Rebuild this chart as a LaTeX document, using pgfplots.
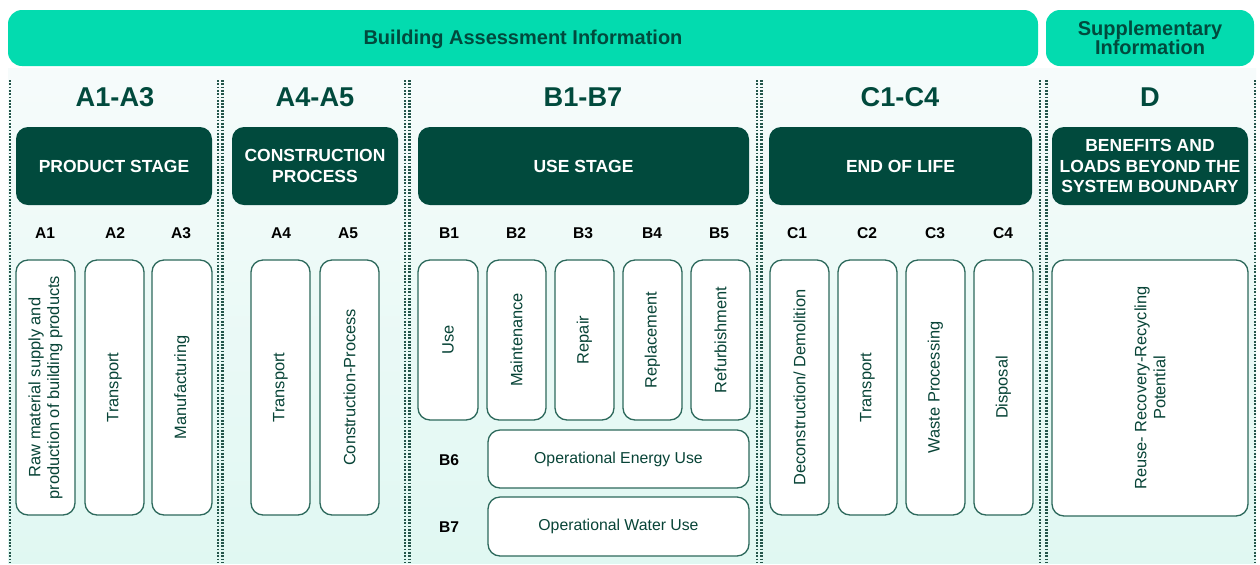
\documentclass[border=0pt]{standalone}
\usepackage{pgfplots}
\pgfplotsset{compat=1.18}
\usepackage{fontspec}
\setmainfont{Liberation Sans}
\usetikzlibrary{calc}
\definecolor{mint}{RGB}{3,219,175}
\definecolor{darkg}{RGB}{1,74,61}
\definecolor{txtg}{RGB}{8,68,55}
\definecolor{bord}{RGB}{45,105,92}
\definecolor{bgtop}{RGB}{246,251,251}
\definecolor{bgbot}{RGB}{224,248,242}
\definecolor{dotc}{RGB}{35,85,74}
\newcommand{\fs}[1]{\fontsize{#1}{1.15\dimexpr#1pt\relax}\selectfont}
\newcommand{\wbox}[5]{%
  \draw[draw=bord, line width=0.65pt, fill=white, rounded corners=6pt] (axis cs:#1,#2) rectangle (axis cs:#3,#4);
  \node[rotate=90, text=txtg, align=center, font=\fs{8.2}, inner sep=0pt] at ($(axis cs:#1,#2)!0.5!(axis cs:#3,#4)$) {#5};}
\newcommand{\horbox}[5]{%
  \draw[draw=bord, line width=0.65pt, fill=white, rounded corners=6pt] (axis cs:#1,#2) rectangle (axis cs:#3,#4);
  \node[text=txtg, align=center, font=\fs{7.9}, inner sep=0pt] at ($(axis cs:#1,#2)!0.5!(axis cs:#3,#4)$) {#5};}
\newcommand{\dbox}[5]{%
  \fill[darkg, rounded corners=6pt] (axis cs:#1,#2) rectangle (axis cs:#3,#4);
  \node[text=white, align=center, font=\bfseries\fs{8.75}, inner sep=0pt] at ($(axis cs:#1,#2)!0.5!(axis cs:#3,#4)$) {#5};}
\newcommand{\code}[3]{\node[text=black, font=\bfseries\fs{7.8}] at (axis cs:#1,#2) {#3};}
\newcommand{\head}[2]{\node[text=darkg, font=\bfseries\fs{13.6}] at (axis cs:#1,97) {#2};}
\newcommand{\dline}[1]{\draw[dotc, line width=1.1pt, dash pattern=on 0.9pt off 0.75pt] (axis cs:#1,80) -- (axis cs:#1,563);}
\begin{document}
\begin{tikzpicture}
\begin{axis}[
  width=630pt, height=281.5pt, scale only axis,
  xmin=0, xmax=1260, ymin=0, ymax=563, y dir=reverse,
  hide axis, clip=false,
]
\fill[white] (axis cs:0,0) rectangle (axis cs:1260,563);
\shade[top color=bgtop, bottom color=bgbot] (axis cs:8,68) rectangle (axis cs:1256,563);
% top bars
\fill[mint, rounded corners=7pt] (axis cs:8,10) rectangle (axis cs:1038,66);
\fill[mint, rounded corners=7pt] (axis cs:1046,10) rectangle (axis cs:1254,66);
\node[text=darkg, font=\bfseries\fs{10}] at (axis cs:523,39) {Building Assessment Information};
\node[text=darkg, font=\bfseries\fs{10}, align=center] at (axis cs:1150,38) {Supplementary\\[-2pt]Information};
% dotted lines
\dline{10}
\dline{218}\dline{222.5}
\dline{405}\dline{409.5}
\dline{757}\dline{761.5}
\dline{1040}\dline{1046.5}
\dline{1255}
% headers
\head{115}{A1-A3}
\head{315}{A4-A5}
\head{583}{B1-B7}
\head{900}{C1-C4}
\head{1150}{D}
% dark boxes
\dbox{16}{127}{212}{205}{PRODUCT STAGE}
\dbox{232}{127}{398}{205}{CONSTRUCTION\\PROCESS}
\dbox{418}{127}{749}{205}{USE STAGE}
\dbox{769}{127}{1032}{205}{END OF LIFE}
\dbox{1052}{127}{1248}{205}{BENEFITS AND\\LOADS BEYOND THE\\SYSTEM BOUNDARY}
% codes
\code{45}{233}{A1}\code{115}{233}{A2}\code{181}{233}{A3}
\code{281}{233}{A4}\code{348}{233}{A5}
\code{449}{233}{B1}\code{516}{233}{B2}\code{583}{233}{B3}\code{652}{233}{B4}\code{719}{233}{B5}
\code{797}{233}{C1}\code{867}{233}{C2}\code{935}{233}{C3}\code{1003}{233}{C4}
\code{449}{460}{B6}\code{449}{527}{B7}
% white boxes
\wbox{16}{260}{75}{515}{Raw material supply and\\production of building products}
\wbox{85}{260}{144}{515}{Transport}
\wbox{152}{260}{212}{515}{Manufacturing}
\wbox{251}{260}{310}{515}{Transport}
\wbox{320}{260}{379}{515}{Construction-Process}
\wbox{418}{260}{478}{420}{Use}
\wbox{487}{260}{546}{420}{Maintenance}
\wbox{555}{260}{614}{420}{Repair}
\wbox{623}{260}{682}{420}{Replacement}
\wbox{691}{260}{750}{420}{Refurbishment}
\horbox{488}{430}{749}{488}{Operational Energy Use}
\horbox{488}{497}{749}{556}{Operational Water Use}
\wbox{770}{260}{829}{515}{Deconstruction/ Demolition}
\wbox{838}{260}{897}{515}{Transport}
\wbox{906}{260}{965}{515}{Waste Processing}
\wbox{974}{260}{1033}{515}{Disposal}
\wbox{1052}{260}{1248}{516}{Reuse- Recovery-Recycling\\Potential}
\end{axis}
\end{tikzpicture}
\end{document}
